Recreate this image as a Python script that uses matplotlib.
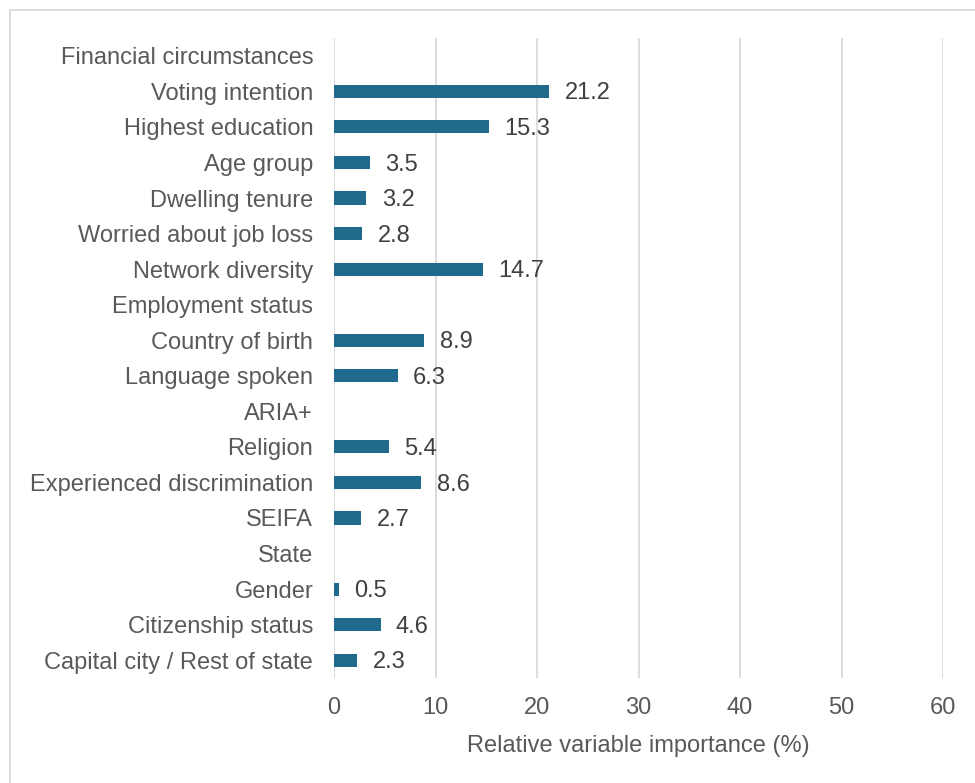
import matplotlib
matplotlib.use("Agg")
import matplotlib.pyplot as plt
from matplotlib.patches import Rectangle
import numpy as np

categories = [
    "Financial circumstances",
    "Voting intention",
    "Highest education",
    "Age group",
    "Dwelling tenure",
    "Worried about job loss",
    "Network diversity",
    "Employment status",
    "Country of birth",
    "Language spoken",
    "ARIA+",
    "Religion",
    "Experienced discrimination",
    "SEIFA",
    "State",
    "Gender",
    "Citizenship status",
    "Capital city / Rest of state",
]
importance = [None, 21.2, 15.3, 3.5, 3.2, 2.8, 14.7, None, 8.9, 6.3,
              None, 5.4, 8.6, 2.7, None, 0.5, 4.6, 2.3]
x_ticks = [0, 10, 20, 30, 40, 50, 60]

plt.rcParams["font.family"] = ["Liberation Sans", "DejaVu Sans"]
FS = 17

W, H, DPI = 975, 783, 100
fig = plt.figure(figsize=(W / DPI, H / DPI), dpi=DPI)
fig.patch.set_facecolor("white")

# Frame around the chart area (top and left edges visible)
fig.add_artist(Rectangle((9.5 / W, -0.01), 1.02, 1 - 9.5 / H + 0.01,
                         transform=fig.transFigure, fill=False,
                         edgecolor="#d9d9d9", linewidth=1.3))

left, right = 334 / W, 943 / W
bottom, top = 1 - 678 / H, 1 - 38 / H
ax = fig.add_axes([left, bottom, right - left, top - bottom])

n = len(categories)
y = np.arange(n)
vals = [v if v is not None else 0 for v in importance]
bar_color = "#1f6a8d"
ax.barh(y, vals, height=0.37, color=bar_color, zorder=3)

for yi, v in zip(y, importance):
    if v is None:
        continue
    ax.text(v + 1.5, yi + 0.06, f"{v:.1f}", va="center", ha="left",
            fontsize=FS, color="#404040", zorder=4)

ax.set_ylim(n - 0.5, -0.5)
ax.set_xlim(0, 60)
ax.set_yticks(y)
ax.set_yticklabels(categories)
ax.set_xticks(x_ticks)
ax.tick_params(axis="both", length=0, labelsize=FS, labelcolor="#595959")
ax.tick_params(axis="y", pad=15)
ax.tick_params(axis="x", pad=13.5)

ax.grid(axis="x", color="#d9d9d9", linewidth=1.3, zorder=0)
ax.set_axisbelow(True)
for s in ax.spines.values():
    s.set_visible(False)

ax.set_xlabel("Relative variable importance (%)", fontsize=FS,
              color="#595959", labelpad=12)

fig.savefig("out.png", dpi=DPI, facecolor="white")
